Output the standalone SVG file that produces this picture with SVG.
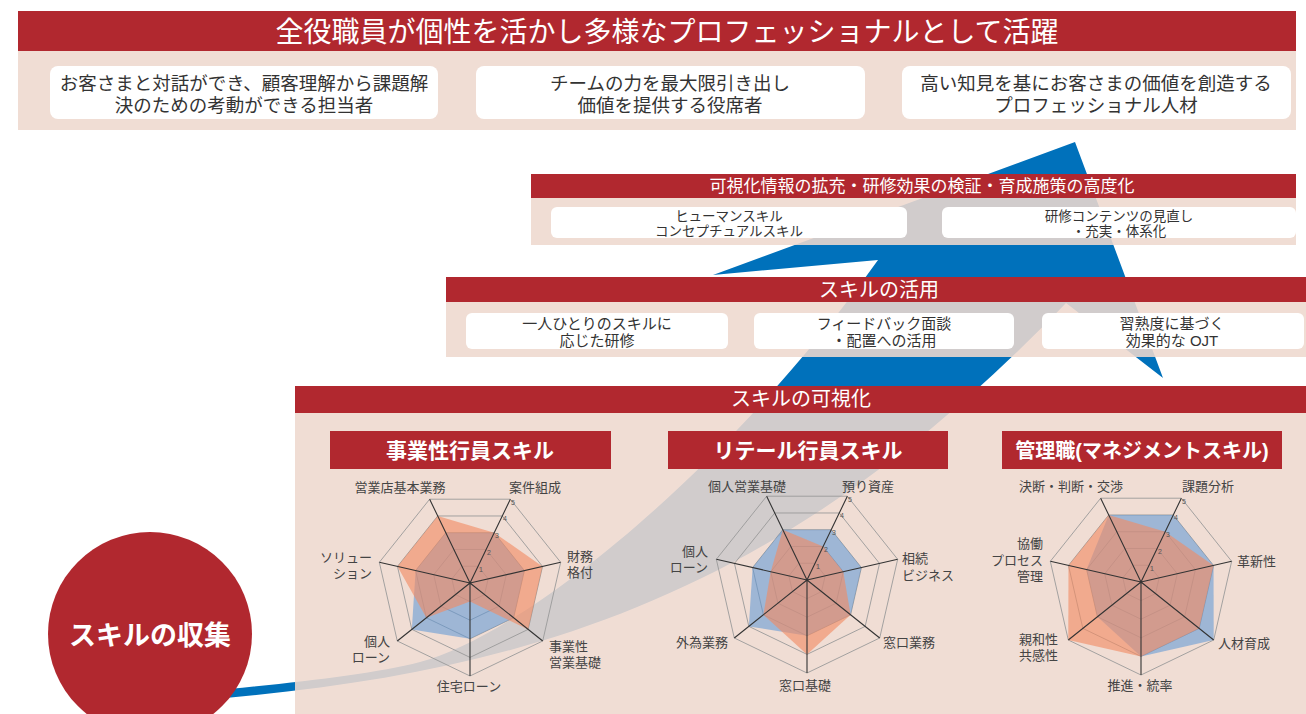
<svg xmlns="http://www.w3.org/2000/svg" xmlns:xlink="http://www.w3.org/1999/xlink" width="1306" height="714" viewBox="0 0 1306 714">
<style>
text{font-family:"Liberation Sans","Noto Sans CJK JP",sans-serif}
.red{fill:#b1282f}
.panel{fill:#eed8ce;fill-opacity:0.88}
.box{fill:#ffffff}
.wt{fill:#ffffff}
.bt{fill:#333333}
.mid{text-anchor:middle}
.end{text-anchor:end}
.lab{font-size:13px;fill:#444444}
.ring{fill:none;stroke:#9a9a9a;stroke-width:0.9}
.axis{fill:none;stroke:#333333;stroke-width:1.1}
.sb{fill:#5b95d6;fill-opacity:0.55}
.so{fill:#f28a63;fill-opacity:0.62}
.tick{font-size:7px;fill:#555555}
</style>
<defs>
<g id="rings">
<polygon class="ring" points="-8.07,-16.76 8.07,-16.76 18.13,-4.14 14.54,11.6 0,18.6 -14.54,11.6 -18.13,-4.14"/>
<polygon class="ring" points="-16.14,-33.52 16.14,-33.52 36.27,-8.28 29.08,23.19 0,37.2 -29.08,23.19 -36.27,-8.28"/>
<polygon class="ring" points="-24.21,-50.28 24.21,-50.28 54.4,-12.42 43.62,34.79 0,55.8 -43.62,34.79 -54.4,-12.42"/>
<polygon class="ring" points="-32.28,-67.03 32.28,-67.03 72.53,-16.55 58.17,46.39 0,74.4 -58.17,46.39 -72.53,-16.55"/>
<polygon class="ring" points="-40.35,-83.79 40.35,-83.79 90.67,-20.69 72.71,57.99 0,93 -72.71,57.99 -90.67,-20.69"/>
</g>
<path id="axes" class="axis" d="M0,0L-40.35,-83.79M0,0L40.35,-83.79M0,0L90.67,-20.69M0,0L72.71,57.99M0,0L0,93M0,0L-72.71,57.99M0,0L-90.67,-20.69"/>
</defs>

<g id="connectors">
<path d="M1075,142 L1163,378 L1066,303 C780,600 520,675 200,700 L200,692 C290,683 370,675 420,662 C520,636 720,480 878,260 L713,275 Z" fill="#0071bb"/>
</g>

<g id="goal">
<rect class="red" x="18" y="11" width="1278" height="40"/>
<rect class="panel" x="18" y="51" width="1278" height="79"/>
<text class="wt mid" x="667" y="42" font-size="28">全役職員が個性を活かし多様なプロフェッショナルとして活躍</text>
<rect class="box" x="50" y="66" width="388" height="53" rx="8"/>
<rect class="box" x="476" y="66" width="389" height="53" rx="8"/>
<rect class="box" x="902" y="66" width="389" height="53" rx="8"/>
<g class="bt mid" font-size="18.5">
<text x="244" y="90"><tspan x="244">お客さまと対話ができ、顧客理解から課題解</tspan><tspan x="244" dy="22">決のための考動ができる担当者</tspan></text>
<text x="670" y="90"><tspan x="670">チームの力を最大限引き出し</tspan><tspan x="670" dy="22">価値を提供する役席者</tspan></text>
<text x="1096" y="90"><tspan x="1096">高い知見を基にお客さまの価値を創造する</tspan><tspan x="1096" dy="22">プロフェッショナル人材</tspan></text>
</g>
</g>

<g id="advance">
<rect class="panel" x="531" y="198" width="765" height="47"/>
<rect class="red" x="531" y="174" width="765" height="24"/>
<text class="wt mid" x="922" y="192" font-size="17">可視化情報の拡充・研修効果の検証・育成施策の高度化</text>
<rect class="box" x="551" y="207" width="356" height="31" rx="6"/>
<rect class="box" x="942" y="207" width="354" height="31" rx="6"/>
<g class="bt mid" font-size="13.5">
<text x="729" y="220.5"><tspan x="729">ヒューマンスキル</tspan><tspan x="729" dy="15.5">コンセプチュアルスキル</tspan></text>
<text x="1119" y="220.5"><tspan x="1119">研修コンテンツの見直し</tspan><tspan x="1119" dy="15.5">・充実・体系化</tspan></text>
</g>
</g>

<g id="utilize">
<rect class="panel" x="446" y="302" width="860" height="55"/>
<rect class="red" x="446" y="277" width="860" height="25"/>
<text class="wt mid" x="879" y="297" font-size="20">スキルの活用</text>
<rect class="box" x="466" y="313" width="262" height="36" rx="6"/>
<rect class="box" x="754" y="313" width="260" height="36" rx="6"/>
<rect class="box" x="1042" y="313" width="262" height="36" rx="6"/>
<g class="bt mid" font-size="15">
<text x="597" y="329"><tspan x="597">一人ひとりのスキルに</tspan><tspan x="597" dy="17">応じた研修</tspan></text>
<text x="884" y="329"><tspan x="884">フィードバック面談</tspan><tspan x="884" dy="17">・配置への活用</tspan></text>
<text x="1172" y="329"><tspan x="1172">習熟度に基づく</tspan><tspan x="1172" dy="17">効果的な OJT</tspan></text>
</g>
</g>

<g id="visualize">
<rect class="panel" x="295" y="413" width="1011" height="301"/>
<rect class="red" x="295" y="386" width="1011" height="27"/>
<text class="wt mid" x="801" y="406" font-size="20">スキルの可視化</text>

<g id="chart-business">
<rect class="red" x="330" y="431" width="281" height="38"/>
<text class="wt mid" x="470" y="458" font-size="21" font-weight="bold">事業性行員スキル</text>
<g transform="translate(470,583)">
<use xlink:href="#rings"/>
<polygon class="sb" points="-24.21,-50.28 24.21,-50.28 54.4,-12.42 43.62,34.79 0,55.8 -58.17,46.39 -54.4,-12.42"/>
<polygon class="so" points="-32.28,-67.03 24.21,-50.28 72.53,-16.55 58.17,46.39 0,18.6 -43.62,34.79 -72.53,-16.55"/>
<use xlink:href="#axes"/>
<g class="tick"><text x="9" y="-11">1</text><text x="17" y="-28">2</text><text x="25" y="-45">3</text><text x="33" y="-62">4</text><text x="41" y="-78">5</text></g>
</g>
<g class="lab">
<text class="mid" x="400" y="492">営業店基本業務</text>
<text class="mid" x="535" y="492">案件組成</text>
<text x="567" y="561"><tspan x="567">財務</tspan><tspan x="567" dy="16">格付</tspan></text>
<text x="549" y="651"><tspan x="549">事業性</tspan><tspan x="549" dy="16">営業基礎</tspan></text>
<text class="mid" x="469" y="691">住宅ローン</text>
<text class="end" x="390" y="646"><tspan x="390">個人</tspan><tspan x="390" dy="16">ローン</tspan></text>
<text class="end" x="372" y="562"><tspan x="372">ソリュー</tspan><tspan x="372" dy="16">ション</tspan></text>
</g>
</g>

<g id="chart-retail">
<rect class="red" x="668" y="431" width="280" height="38"/>
<text class="wt mid" x="808" y="458" font-size="21" font-weight="bold">リテール行員スキル</text>
<g transform="translate(807,580)">
<use xlink:href="#rings"/>
<polygon class="sb" points="-24.21,-50.28 24.21,-50.28 54.4,-12.42 43.62,34.79 0,55.8 -58.17,46.39 -54.4,-12.42"/>
<polygon class="so" points="-24.21,-50.28 16.14,-33.52 36.27,-8.28 43.62,34.79 0,74.4 -43.62,34.79 -36.27,-8.28"/>
<use xlink:href="#axes"/>
<g class="tick"><text x="9" y="-11">1</text><text x="17" y="-28">2</text><text x="25" y="-45">3</text><text x="33" y="-62">4</text><text x="41" y="-78">5</text></g>
</g>
<g class="lab">
<text class="mid" x="747" y="491">個人営業基礎</text>
<text class="mid" x="868" y="491">預り資産</text>
<text x="902" y="563"><tspan x="902">相続</tspan><tspan x="902" dy="17">ビジネス</tspan></text>
<text x="883" y="647">窓口業務</text>
<text class="mid" x="805" y="690">窓口基礎</text>
<text class="end" x="708" y="556"><tspan x="708">個人</tspan><tspan x="708" dy="16">ローン</tspan></text>
<text class="end" x="728" y="647">外為業務</text>
</g>
</g>

<g id="chart-management">
<rect class="red" x="1002" y="431" width="280" height="38"/>
<text class="wt mid" x="1142" y="458" font-size="20" font-weight="bold">管理職(マネジメントスキル)</text>
<g transform="translate(1141,582)">
<use xlink:href="#rings"/>
<polygon class="sb" points="-32.28,-67.03 32.28,-67.03 72.53,-16.55 72.71,57.99 0,74.4 -43.62,34.79 -54.4,-12.42"/>
<polygon class="so" points="-32.28,-67.03 24.21,-50.28 72.53,-16.55 58.17,46.39 0,74.4 -72.71,57.99 -72.53,-16.55"/>
<use xlink:href="#axes"/>
<g class="tick"><text x="9" y="-11">1</text><text x="17" y="-28">2</text><text x="25" y="-45">3</text><text x="33" y="-62">4</text><text x="41" y="-78">5</text></g>
</g>
<g class="lab">
<text class="mid" x="1071" y="491">決断・判断・交渉</text>
<text class="mid" x="1208" y="491">課題分析</text>
<text x="1237" y="566">革新性</text>
<text x="1218" y="648">人材育成</text>
<text class="mid" x="1140" y="690">推進・統率</text>
<text class="end" x="1043" y="548"><tspan x="1043">協働</tspan><tspan x="1043" dy="16.5">プロセス</tspan><tspan x="1043" dy="16.5">管理</tspan></text>
<text class="end" x="1058" y="644"><tspan x="1058">親和性</tspan><tspan x="1058" dy="16">共感性</tspan></text>
</g>
</g>
</g>

<g id="collect">
<circle class="red" cx="150" cy="634" r="102"/>
<text class="wt mid" x="150" y="645" font-size="27" font-weight="bold">スキルの収集</text>
</g>
</svg>
